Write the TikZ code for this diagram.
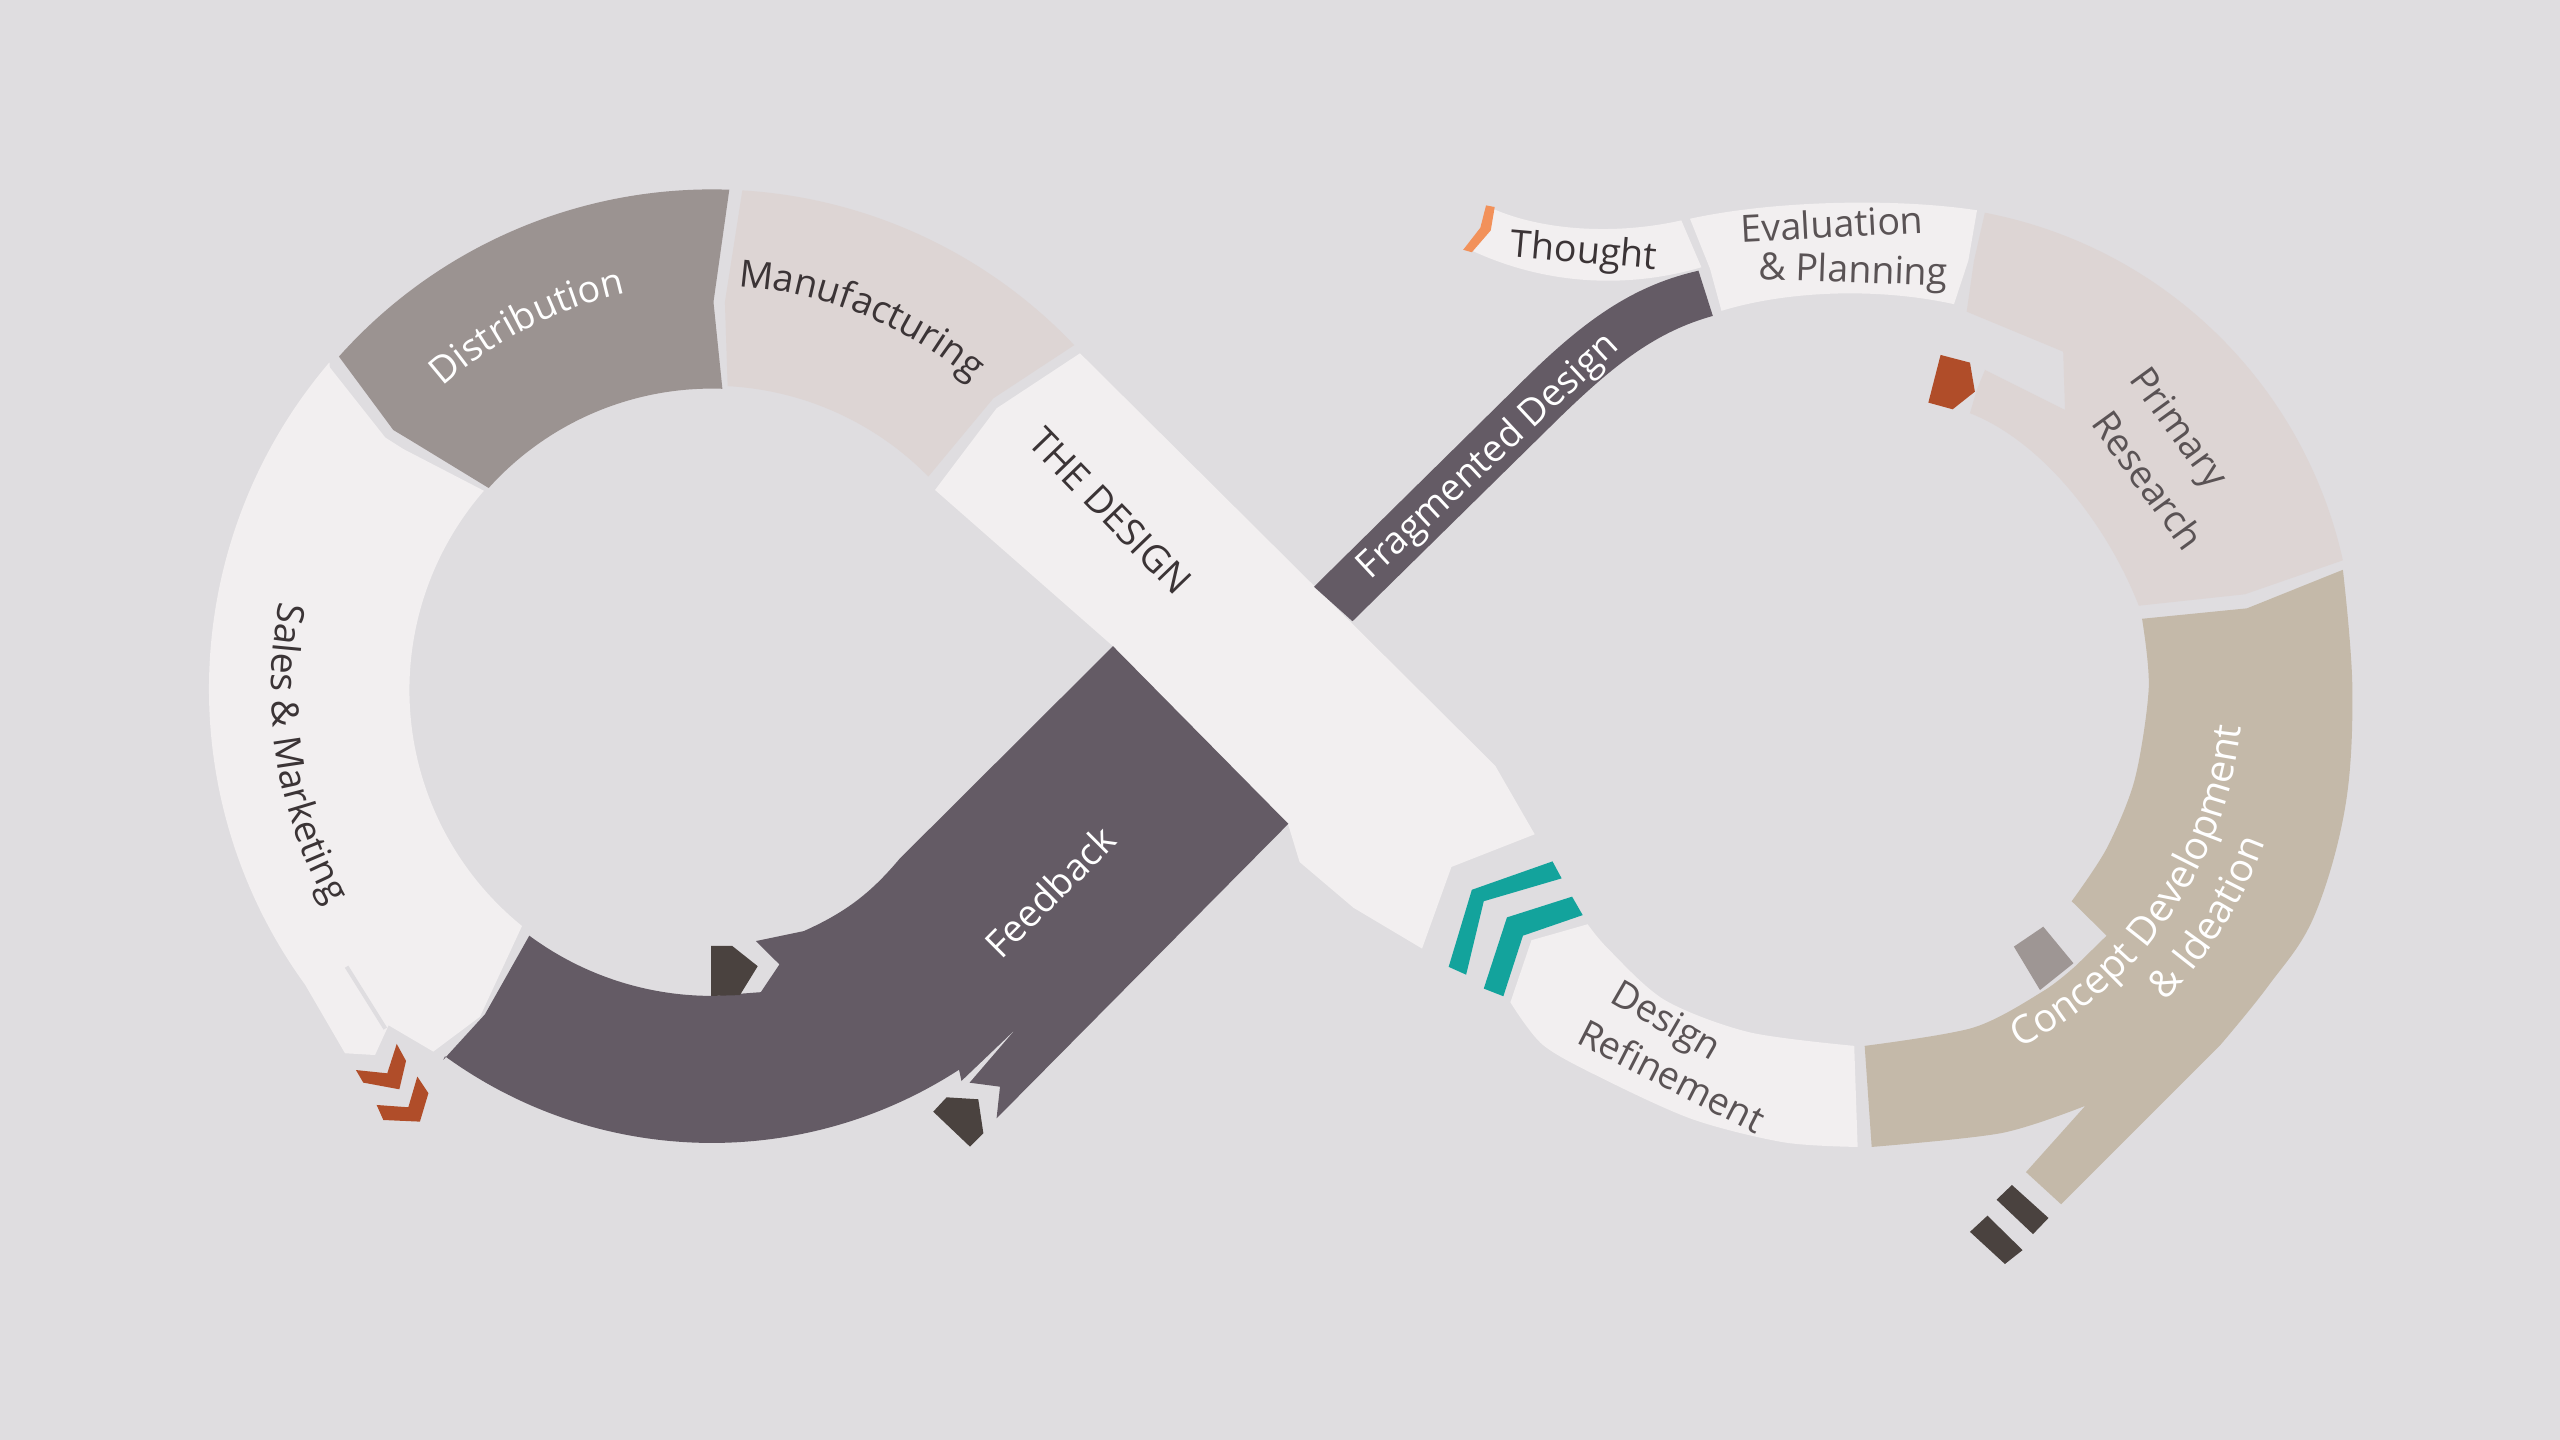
\documentclass[tikz,border=0pt]{standalone}
\usepackage{fontspec}
\setmainfont{Open Sans}
\usetikzlibrary{decorations.text}
\definecolor{bg}{HTML}{DFDDE0}
\definecolor{paper}{HTML}{F2EFF0}
\definecolor{distc}{HTML}{9B9391}
\definecolor{pinkc}{HTML}{DDD5D4}
\definecolor{darkc}{HTML}{645B65}
\definecolor{tanc}{HTML}{C4B9A9}
\definecolor{tealc}{HTML}{13A39C}
\definecolor{rustc}{HTML}{B04D29}
\definecolor{orangec}{HTML}{F2915A}
\definecolor{markc}{HTML}{4A423F}
\definecolor{grayc}{HTML}{9E9694}
\definecolor{txtc}{HTML}{3B3436}
\definecolor{txtl}{HTML}{5A5355}
\newcommand\lblfont{\fontsize{23}{27}\selectfont}
\newcommand\biglblfont{\fontsize{24}{28}\selectfont}
\begin{document}
\begin{tikzpicture}[x=1pt,y=-1pt,
  lbl/.style={font=\lblfont, inner sep=0pt, text=txtc},
  wlbl/.style={font=\lblfont, inner sep=0pt, text=white},
  gapline/.style={draw=bg, line width=2.5pt}]
\useasboundingbox (0,0) rectangle (1568,882);
\fill[bg] (0,0) rectangle (1568,882);
\coordinate (C1) at (436,422);

% Sales & Marketing
\fill[paper] (202,225) -- (236,268) -- (247,275) -- (296.4,300.6)
  arc[start angle=-139, end angle=-231, radius=186]
  -- (294,622.7) -- (265.4,644.1) -- (238,628) -- (229.7,646.2) -- (211.3,645.1)
  -- (186.8,603) arc[start angle=-216, end angle=-139.5, radius=308] -- cycle;
\draw[gapline] (212.3,592.1) -- (236,630);

% Distribution
\fill[distc] (207.6,218.4) -- (240.9,263.4) -- (251.1,269.5) -- (299.3,298.9)
  arc[start angle=-138, end angle=-88, radius=184]
  -- (437,185) -- (446.7,116.2)
  arc[start angle=-88, end angle=-138.3, radius=306] -- cycle;

% Manufacturing
\fill[pinkc] (454.7,116.6) arc[start angle=-86.5, end angle=-43.5, radius=306]
  -- (608.4,244) -- (568.6,291.9)
  arc[start angle=-44.5, end angle=-87, radius=186]
  -- (444,185) -- cycle;

% THE DESIGN band
\fill[paper] (572.7,300.1) -- (610.4,250.1) -- (661.5,216.4) -- (915.8,469) -- (940,511)
  -- (889,531) -- (871,581) -- (829,556) -- (796,528) -- (789,505) -- (681.7,395.8) -- cycle;

% Feedback
\fill[darkc] (324.2,573.1) arc[start angle=-233.5, end angle=-270, radius=188]
  -- (466,607.7) -- (477.4,590.7) -- (463,576.4) -- (492.3,570.3)
  .. controls (520,558) and (535,545) .. (551,526)
  -- (681.7,395.8) -- (789.1,504.6) -- (610.4,685) -- (612.5,665.6)
  -- (589,662.5) -- (587.4,655.2) arc[start angle=-303, end angle=-234, radius=278]
  -- (271.5,649.2) -- (297,621.3) -- cycle;
\fill[bg] (620.6,631.9) -- (587,664) -- (593,664) -- cycle;

% Fragmented Design
\fill[darkc] (804.8,359.4) -- (930,236) .. controls (970,196) and (1000,175) .. (1040.3,165.8)
  -- (1049.1,193.5) .. controls (1015,203) and (990,222) .. (955,256) -- (828.4,380.5) -- cycle;

% Thought
\fill[paper] (912,126.8) .. controls (940,140) and (985,145) .. (1029.8,135)
  -- (1042.1,163.7) .. controls (1000,176) and (950,176) .. (901.5,153.5)
  -- (906.7,139.5) -- cycle;
\fill[orangec] (910.2,125.8) -- (915.5,126.8) -- (913.1,141.1) -- (901.5,154.5)
  -- (896.2,153) -- (906.7,139.5) -- cycle;

% Evaluation & Planning
\fill[paper] (1035.1,134) .. controls (1085,123) and (1160,121) .. (1210.9,128.8)
  -- (1205.6,159.6) -- (1196.8,186.3) .. controls (1150,176) and (1095,178) .. (1054.4,190.4)
  -- (1047.4,164.7) -- cycle;

% Primary Research
\fill[pinkc] (1215.7,130.3) arc[start angle=-79.2, end angle=-12.5, radius=278]
  -- (1375,364) -- (1310,371)
  .. controls (1290,320) and (1250,270) .. (1206.6,253.1)
  -- (1210.7,238.9) -- (1215.8,226.6) -- (1264.8,251.1) -- (1263.7,215.4)
  -- (1204.6,190.9) -- (1209,160) -- cycle;

% Concept Development & Ideation
\fill[tanc] plot[smooth, tension=0.6] coordinates {(1435,349) (1440.8,421.3) (1436.4,494.4) (1417.1,561.9) (1389.2,604) (1360,640)}
  -- (1262.4,737.6) -- (1240.9,717.9) -- (1316,634)
  -- plot[smooth] coordinates {(1277.5,677.2) (1225.9,694) (1146.4,702.5)}
  -- plot[smooth] coordinates {(1142.1,640.6) (1208.7,629.4) (1251.7,606.9) (1272,591)}
  -- (1290.3,573.1)
  -- plot[smooth] coordinates {(1268.9,552) (1290.3,519.7) (1307.5,477.5) (1316.1,421.3) (1312,379)}
  -- (1376.3,372.6) -- cycle;

% Design Refinement
\fill[paper] (972.4,566.1) -- (938,575.9) -- (925.1,613.9)
  -- plot[smooth] coordinates {(925.1,613.9) (945,640) (981,660.3) (1036.8,685.6) (1092.7,699.7) (1137.8,702.5)}
  -- (1135.7,640.6)
  -- plot[smooth] coordinates {(1135.7,640.6) (1071.2,632.2) (1019.6,612.5) (985.3,581.5) (972.4,566.1)}
  -- cycle;

% teal chevrons
\fill[tealc] (950.9,527.6) -- (956.5,538) -- (908.8,552) -- (898,597) -- (887.3,592.2) -- (901.5,545) -- cycle;
\fill[tealc] (962.9,549.2) -- (969.4,560.5) -- (932.8,573.1) -- (920.8,610.2) -- (908.8,605.5) -- (923,561.9) -- cycle;

% rust chevrons
\fill[rustc] (218,655.4) -- (237.2,657.4) -- (243,639.4) -- (248.7,649.8) -- (244.6,667.2) -- (222.5,663.1) -- cycle;
\fill[rustc] (230.7,676.8) -- (250.1,678.2) -- (255.6,659.4) -- (262.4,669.6) -- (257.2,687) -- (234.8,686) -- cycle;

% markers
\fill[markc] (435.6,579.4) -- (448.5,579.4) -- (464.1,591.8) -- (453.2,609.5) -- (435.6,610) -- cycle;
\fill[markc] (571.6,680.9) -- (579.8,672.1) -- (599.2,673.3) -- (602.3,694.1) -- (594.1,702.3) -- cycle;
\fill[rustc] (1188.6,217.4) -- (1206.6,222.1) -- (1209.6,239.9) -- (1196,250.7) -- (1181.1,246.6) -- cycle;
\fill[grayc] (1233.5,579.8) -- (1251.5,567.6) -- (1270,590) -- (1249.5,606.4) -- cycle;
\fill[markc] (1232.3,725.8) -- (1254.7,746) -- (1245.2,755.9) -- (1222.9,734.8) -- cycle;
\fill[markc] (1217.3,744.6) -- (1238.8,765.7) -- (1228,774.2) -- (1206.6,754.5) -- cycle;

% curved labels
\path[decorate, decoration={text along path, text align=center, text color=white,
  text={|\lblfont|Distribution}}]
  (232.9,279.8) arc[start angle=-145, end angle=-89, radius=248];
\path[decorate, decoration={text along path, text align=center, text color=txtc,
  text={|\lblfont|Manufacturing}}]
  (393.1,178.7) arc[start angle=-100, end angle=-36, radius=247];
\path[decorate, decoration={text along path, text align=center, text color=txtc,
  text={|\lblfont|Sales {\&} Marketing}}]
  (202.2,287) arc[start angle=-150, end angle=-228, radius=270];
\path[decorate, decoration={text along path, text align=center, text color=white,
  text={|\biglblfont|Concept Development}}]
  (1208.2,654.8) arc[start angle=-290, end angle=-361, radius=252];
\path[decorate, decoration={text along path, text align=center, text color=white,
  text={|\biglblfont|{\&} Ideation}}]
  (1263.5,663.1) arc[start angle=-300, end angle=-356, radius=283];

% labels
\node[lbl, rotate=-46] (design) at (680,313) {THE DESIGN};
\node[wlbl, rotate=45] (feedback) at (643,546) {Feedback};
\node[wlbl, rotate=43] (frag) at (912,280) {Fragmented Design};
\node[lbl, rotate=-5] (thought) at (970,155) {Thought};
\node[lbl, text=txtl, rotate=3] (eval) at (1122,137) {Evaluation};
\node[lbl, text=txtl, rotate=-2] (plan) at (1135,167) {\& Planning};
\node[lbl, text=txtl, rotate=-54] (prim) at (1333,263) {Primary};
\node[lbl, text=txtl, rotate=-54] (res) at (1316,294) {Research};
\node[lbl, text=txtl, rotate=-30] (desg) at (1019.7,626.6) {Design};
\node[lbl, text=txtl, rotate=-27] (refine) at (1024,658.9) {Refinement};
\end{tikzpicture}
\end{document}
